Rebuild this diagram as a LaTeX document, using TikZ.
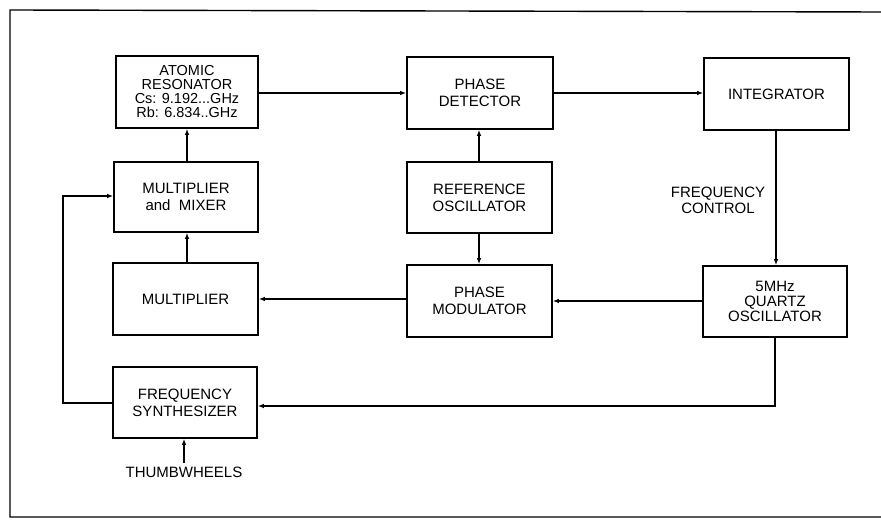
\documentclass[tikz,border=0pt]{standalone}
\usepackage{fontspec}
\setmainfont{Liberation Sans}
\usetikzlibrary{arrows.meta}
\begin{document}
\begin{tikzpicture}[x=1pt,y=-1pt,
  blk/.style={draw,line width=1.6pt,align=center,inner sep=0pt,
    font=\fontsize{15}{17}\selectfont},
  conn/.style={line width=1.3pt,-{Latex[length=6pt,width=4.5pt]}},
  lbl/.style={align=center,font=\fontsize{15}{16}\selectfont}]
\useasboundingbox (0,0) rectangle (881,521);
\draw[line width=1.4pt] (881,12) -- (10,10) -- (10,517) -- (881,517);
% boxes
\node[blk,minimum width=142pt,minimum height=72pt,font=\fontsize{14.5}{14}\selectfont] (atom) at (187,92)
  {ATOMIC\\RESONATOR\\Cs: 9.192...GHz\\Rb: 6.834..GHz};
\node[blk,minimum width=144pt,minimum height=70pt] (mix) at (186,197) {MULTIPLIER\\and\ \ MIXER};
\node[blk,minimum width=145pt,minimum height=72pt] (mult) at (185.5,299) {MULTIPLIER};
\node[blk,minimum width=144pt,minimum height=71pt] (syn) at (185,402.5) {FREQUENCY\\SYNTHESIZER};
\node[blk,minimum width=146pt,minimum height=72pt] (pd) at (480,93) {PHASE\\DETECTOR};
\node[blk,minimum width=145pt,minimum height=71pt] (ref) at (479.5,197.5) {REFERENCE\\OSCILLATOR};
\node[blk,minimum width=145pt,minimum height=72pt] (pm) at (479.5,301) {PHASE\\MODULATOR};
\node[blk,minimum width=145pt,minimum height=72pt] (int) at (776.5,94) {INTEGRATOR};
\node[blk,minimum width=144pt,minimum height=71pt,font=\fontsize{15}{15}\selectfont] (qz) at (775,301.5) {5MHz\\QUARTZ\\OSCILLATOR};
% labels
\node[lbl] (fc) at (718,200) {FREQUENCY\\CONTROL};
\node[lbl] (thumb) at (184,472) {THUMBWHEELS};
\coordinate (qzb) at (qz.south -| 775,0);
\coordinate (c1) at (775,406);
\coordinate (c2) at (63,403);
\coordinate (c3) at (63,196);
% connectors
\draw[conn] (atom.east |- 0,93) -- (pd.west |- 0,93);
\draw[conn] (pd.east |- 0,93) -- (int.west |- 0,93);
\draw[conn] (int.south -| 776,0) -- (qz.north -| 776,0);
\draw[conn] (qz.west |- 0,301) -- (pm.east |- 0,301);
\draw[conn] (pm.west |- 0,299) -- (mult.east |- 0,299);
\draw[conn] (mult.north -| 187,0) -- (mix.south -| 187,0);
\draw[conn] (mix.north -| 187,0) -- (atom.south -| 187,0);
\draw[conn] (ref.north -| 479,0) -- (pd.south -| 479,0);
\draw[conn] (ref.south -| 479,0) -- (pm.north -| 479,0);
\draw[conn] (qzb) -- (c1) -- (syn.east |- c1);
\draw[conn] (syn.west |- c2) -- (c2) -- (c3) -- (mix.west |- c3);
\draw[conn] (thumb.north -| 184,0) -- (syn.south -| 184,0);
\end{tikzpicture}
\end{document}
